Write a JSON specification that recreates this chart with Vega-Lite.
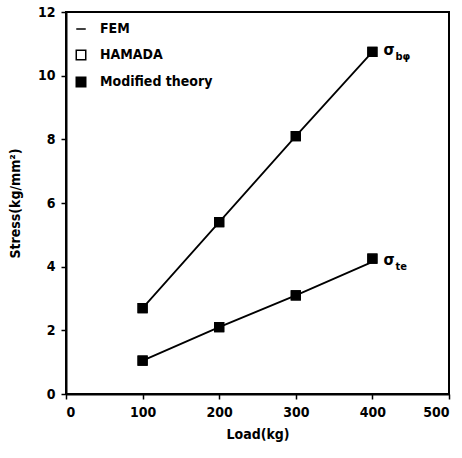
{
  "$schema": "https://vega.github.io/schema/vega-lite/v6.json",
  "width": 383,
  "height": 382,
  "autosize": {"type": "none"},
  "padding": {"left": 66, "top": 12, "right": 13, "bottom": 64},
  "background": "white",
  "config": {
    "view": {"stroke": "black", "strokeWidth": 2},
    "font": "DejaVu Sans Condensed, Liberation Sans, sans-serif",
    "axis": {
      "domainColor": "black", "domainWidth": 2, "tickColor": "black", "tickWidth": 1.5, "tickSize": 5,
      "grid": false, "labelColor": "black", "labelFont": "DejaVu Sans Condensed, Liberation Sans, sans-serif", "labelFontSize": 14, "labelFontWeight": "bold",
      "titleColor": "black", "titleFont": "DejaVu Sans Condensed, Liberation Sans, sans-serif", "titleFontSize": 14, "titleFontWeight": "bold"
    },
    "legend": {
      "labelFont": "DejaVu Sans Condensed, Liberation Sans, sans-serif", "labelFontSize": 14, "labelFontWeight": "bold", "labelColor": "black"
    }
  },
  "data": {
    "values": [
      {"load": 100, "stress": 2.7, "curve": "b", "method": "FEM"},
      {"load": 200, "stress": 5.4, "curve": "b", "method": "FEM"},
      {"load": 300, "stress": 8.1, "curve": "b", "method": "FEM"},
      {"load": 400, "stress": 10.75, "curve": "b", "method": "FEM"},
      {"load": 100, "stress": 1.05, "curve": "t", "method": "FEM"},
      {"load": 200, "stress": 2.1, "curve": "t", "method": "FEM"},
      {"load": 300, "stress": 3.1, "curve": "t", "method": "FEM"},
      {"load": 400, "stress": 4.15, "curve": "t", "method": "FEM"},
      {"load": 100, "stress": 2.7, "curve": "b", "method": "HAMADA"},
      {"load": 200, "stress": 5.4, "curve": "b", "method": "HAMADA"},
      {"load": 300, "stress": 8.1, "curve": "b", "method": "HAMADA"},
      {"load": 400, "stress": 10.75, "curve": "b", "method": "HAMADA"},
      {"load": 100, "stress": 1.05, "curve": "t", "method": "HAMADA"},
      {"load": 200, "stress": 2.1, "curve": "t", "method": "HAMADA"},
      {"load": 300, "stress": 3.1, "curve": "t", "method": "HAMADA"},
      {"load": 400, "stress": 4.25, "curve": "t", "method": "HAMADA"},
      {"load": 100, "stress": 2.7, "curve": "b", "method": "Modified theory"},
      {"load": 200, "stress": 5.4, "curve": "b", "method": "Modified theory"},
      {"load": 300, "stress": 8.1, "curve": "b", "method": "Modified theory"},
      {"load": 400, "stress": 10.75, "curve": "b", "method": "Modified theory"},
      {"load": 100, "stress": 1.05, "curve": "t", "method": "Modified theory"},
      {"load": 200, "stress": 2.1, "curve": "t", "method": "Modified theory"},
      {"load": 300, "stress": 3.1, "curve": "t", "method": "Modified theory"},
      {"load": 400, "stress": 4.25, "curve": "t", "method": "Modified theory"}
    ]
  },
  "encoding": {
    "x": {"field": "load", "type": "quantitative", "scale": {"domain": [0, 500], "nice": false},
      "axis": {"values": [0, 100, 200, 300, 400, 500], "title": "Load(kg)", "labelPadding": 6, "titlePadding": 8}},
    "y": {"field": "stress", "type": "quantitative", "scale": {"domain": [0, 12], "nice": false},
      "axis": {"values": [0, 2, 4, 6, 8, 10, 12], "title": "Stress(kg/mm²)", "labelPadding": 6, "titlePadding": 15}}
  },
  "layer": [
    {
      "transform": [{"filter": "datum.method === 'FEM'"}],
      "mark": {"type": "line", "color": "black", "strokeWidth": 1.8},
      "encoding": {"detail": {"field": "curve"}}
    },
    {
      "transform": [{"filter": "datum.method !== 'FEM'"}],
      "mark": {"type": "point", "filled": true, "size": 81, "strokeWidth": 1.2, "opacity": 1},
      "encoding": {
        "shape": {"field": "method", "type": "nominal",
          "scale": {"domain": ["FEM", "HAMADA", "Modified theory"], "range": ["stroke", "square", "square"]},
          "legend": {"title": null, "orient": "none", "legendX": 8, "legendY": 10, "rowPadding": 11, "symbolSize": 90,
            "symbolStrokeWidth": 1.5, "labelOffset": 12}},
        "fill": {"field": "method", "type": "nominal",
          "scale": {"domain": ["FEM", "HAMADA", "Modified theory"], "range": ["black", "white", "black"]},
          "legend": {"title": null, "orient": "none", "legendX": 8, "legendY": 10, "rowPadding": 11, "symbolSize": 90,
            "symbolStrokeWidth": 1.5, "labelOffset": 12}},
        "stroke": {"field": "method", "type": "nominal",
          "scale": {"domain": ["FEM", "HAMADA", "Modified theory"], "range": ["black", "black", "black"]},
          "legend": {"title": null, "orient": "none", "legendX": 8, "legendY": 10, "rowPadding": 11, "symbolSize": 90,
            "symbolStrokeWidth": 1.5, "labelOffset": 12}}
      }
    },
    {
      "transform": [{"filter": "datum.method === 'FEM' && datum.load === 400"}],
      "mark": {"type": "text", "align": "left", "baseline": "middle", "dx": 11, "dy": -2, "fontSize": 16, "fontWeight": "bold", "color": "black"},
      "encoding": {"text": {"value": "σ"}}
    },
    {
      "transform": [{"filter": "datum.method === 'FEM' && datum.load === 400"}, {"calculate": "datum.curve === 'b' ? 'bφ' : 'te'", "as": "sub"}],
      "mark": {"type": "text", "align": "left", "baseline": "middle", "dx": 23, "dy": 5, "fontSize": 11, "fontWeight": "bold", "color": "black"},
      "encoding": {"text": {"field": "sub"}}
    }
  ]
}
